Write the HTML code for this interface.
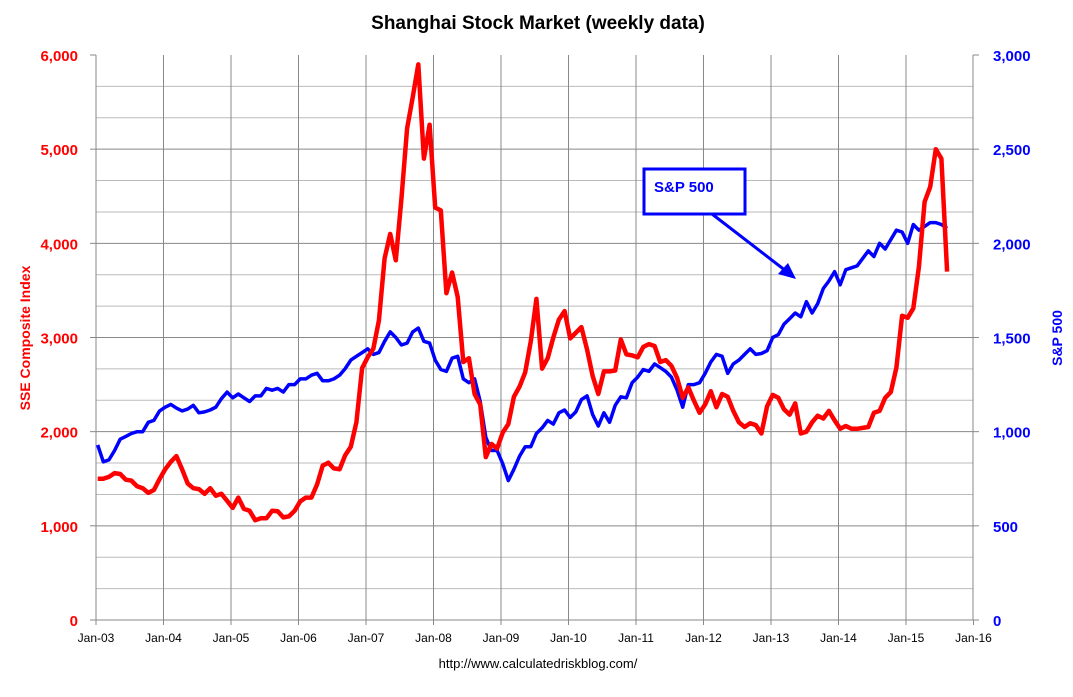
<!DOCTYPE html>
<html><head><meta charset="utf-8"><style>
body{margin:0;background:#fff;}
svg text{font-family:"Liberation Sans",Arial,sans-serif;}
</style></head><body>
<svg id="c" width="1073" height="692" xmlns="http://www.w3.org/2000/svg">
<text x="538" y="29" text-anchor="middle" font-size="19" font-weight="bold" fill="#000">Shanghai Stock Market (weekly data)</text>
<g id="grid"></g>
<g id="axes"></g>
<g id="series"></g>
<text transform="translate(30,338) rotate(-90)" text-anchor="middle" font-size="14" font-weight="bold" fill="#f00">SSE Composite Index</text>
<text transform="translate(1062,338) rotate(-90)" text-anchor="middle" font-size="14" font-weight="bold" fill="#00f">S&amp;P 500</text>
<rect x="644" y="169" width="101" height="45" fill="#fff" stroke="#00f" stroke-width="3"/>
<text x="654" y="192" font-size="15" font-weight="bold" fill="#00f">S&amp;P 500</text>
<line x1="712" y1="214" x2="786" y2="271" stroke="#00f" stroke-width="3"/>
<polygon points="796,279 778,274 788,263" fill="#00f"/>
<text x="538" y="668" text-anchor="middle" font-size="13" fill="#000">http://www.calculatedriskblog.com/</text>
</svg>
<script>
const xLabels=["Jan-03","Jan-04","Jan-05","Jan-06","Jan-07","Jan-08","Jan-09","Jan-10","Jan-11","Jan-12","Jan-13","Jan-14","Jan-15","Jan-16"];
const leftTicks=[0,1000,2000,3000,4000,5000,6000];
const rightTicks=[0,500,1000,1500,2000,2500,3000];
const sse=[1500,1500,1520,1560,1550,1490,1480,1420,1400,1350,1380,1497,
1600,1680,1740,1600,1450,1400,1390,1340,1400,1320,1340,1266,
1190,1300,1180,1160,1060,1080,1080,1160,1155,1090,1100,1160,
1260,1300,1300,1440,1640,1670,1610,1600,1750,1840,2100,2675,
2790,2880,3180,3840,4100,3820,4470,5220,5550,5900,4900,5260,
4380,4350,3470,3690,3430,2740,2780,2400,2290,1730,1870,1820,
1990,2080,2370,2480,2630,2960,3410,2670,2780,3000,3190,3280,
2990,3050,3110,2870,2590,2400,2640,2640,2650,2980,2820,2810,
2790,2900,2930,2910,2740,2760,2700,2570,2360,2470,2330,2200,
2290,2430,2260,2400,2370,2220,2100,2050,2090,2070,1980,2270,
2390,2360,2240,2180,2300,1980,2000,2100,2170,2140,2220,2120,
2030,2060,2030,2030,2040,2050,2200,2220,2360,2420,2680,3230,
3210,3310,3750,4440,4600,5000,4900,3700];
const sp500=[930,840,850,900,960,975,990,1000,1000,1050,1060,1110,
1130,1145,1125,1110,1120,1140,1100,1105,1115,1130,1175,1210,
1180,1200,1180,1160,1190,1190,1230,1220,1230,1210,1250,1250,
1280,1280,1300,1310,1270,1270,1280,1300,1335,1380,1400,1420,
1440,1410,1420,1480,1530,1500,1460,1470,1530,1550,1480,1470,
1380,1330,1320,1390,1400,1280,1260,1280,1160,970,900,900,
830,740,800,870,920,920,990,1020,1060,1040,1100,1115,
1075,1105,1170,1190,1090,1030,1100,1050,1140,1185,1180,1260,
1290,1330,1320,1360,1340,1320,1290,1220,1130,1250,1250,1260,
1310,1370,1410,1400,1310,1360,1380,1410,1440,1410,1415,1430,
1500,1515,1570,1600,1630,1610,1690,1630,1680,1760,1800,1850,
1780,1860,1870,1880,1920,1960,1930,2000,1970,2020,2070,2060,
2000,2100,2070,2090,2110,2110,2100,2080];
const X0=96,YR=67.5,TOP=55,BOT=620,RIGHT=973;
const xs=m=>X0+m/12*YR;
const yL=v=>BOT-v/6000*(BOT-TOP);
const yR=v=>BOT-v/3000*(BOT-TOP);
const NS="http://www.w3.org/2000/svg";
function mk(tag,attrs,parent,text){const e=document.createElementNS(NS,tag);for(const k in attrs)e.setAttribute(k,attrs[k]);if(text!==undefined)e.textContent=text;parent.appendChild(e);return e;}
const grid=document.getElementById('grid'),axes=document.getElementById('axes'),series=document.getElementById('series');
for(let i=0;i<18;i++){const v=i*1000/3;const y=yL(v);const major=i%3===0;
 const l=mk('line',{x1:X0,x2:RIGHT,y1:y,y2:y,stroke:major?'#888':'#bbb','stroke-width':1},grid);
 
 }
xLabels.forEach((t,i)=>{const x=X0+i*YR;
 if(i>0&&i<13){const g=mk('line',{x1:x,x2:x,y1:TOP,y2:BOT,stroke:'#888','stroke-width':1},grid);
 
 }
 const tk=mk('line',{x1:x,x2:x,y1:BOT,y2:BOT+5,stroke:'#888'},axes);
 
 
 const tx=mk('text',{x:x,y:BOT+22,'text-anchor':'middle','font-size':12,fill:'#000'},axes,t);
 
 });
leftTicks.forEach(v=>{const t=mk('text',{x:78,y:yL(v)+6,'text-anchor':'end','font-size':15,'font-weight':'bold',fill:'#f00'},axes,v.toLocaleString('en-US'));
 
 
 const k=mk('line',{x1:X0-6,x2:X0,y1:yL(v),y2:yL(v),stroke:'#888'},axes);
 
 });
rightTicks.forEach(v=>{const t=mk('text',{x:993,y:yR(v)+6,'text-anchor':'start','font-size':15,'font-weight':'bold',fill:'#00f'},axes,v.toLocaleString('en-US'));
 
 
 const k=mk('line',{x1:RIGHT,x2:RIGHT+6,y1:yR(v),y2:yR(v),stroke:'#888'},axes);
 
 });
const ax=mk('path',{d:`M${X0},${TOP}V${BOT}H${RIGHT}V${TOP}`,fill:'none',stroke:'#888'},axes);


const pts=(arr,f)=>arr.map((v,i)=>{const m=i<156?i:156+(i-156)*0.5;return xs(m+0.3).toFixed(1)+','+f(v).toFixed(1);}).join(' ');
const blue=mk('polyline',{points:pts(sp500,yR),fill:'none',stroke:'#00f','stroke-width':3.5,'stroke-linejoin':'round'},series);


const red=mk('polyline',{points:pts(sse,yL),fill:'none',stroke:'#f00','stroke-width':4.5,'stroke-linejoin':'round'},series);


</script>
</body></html>
